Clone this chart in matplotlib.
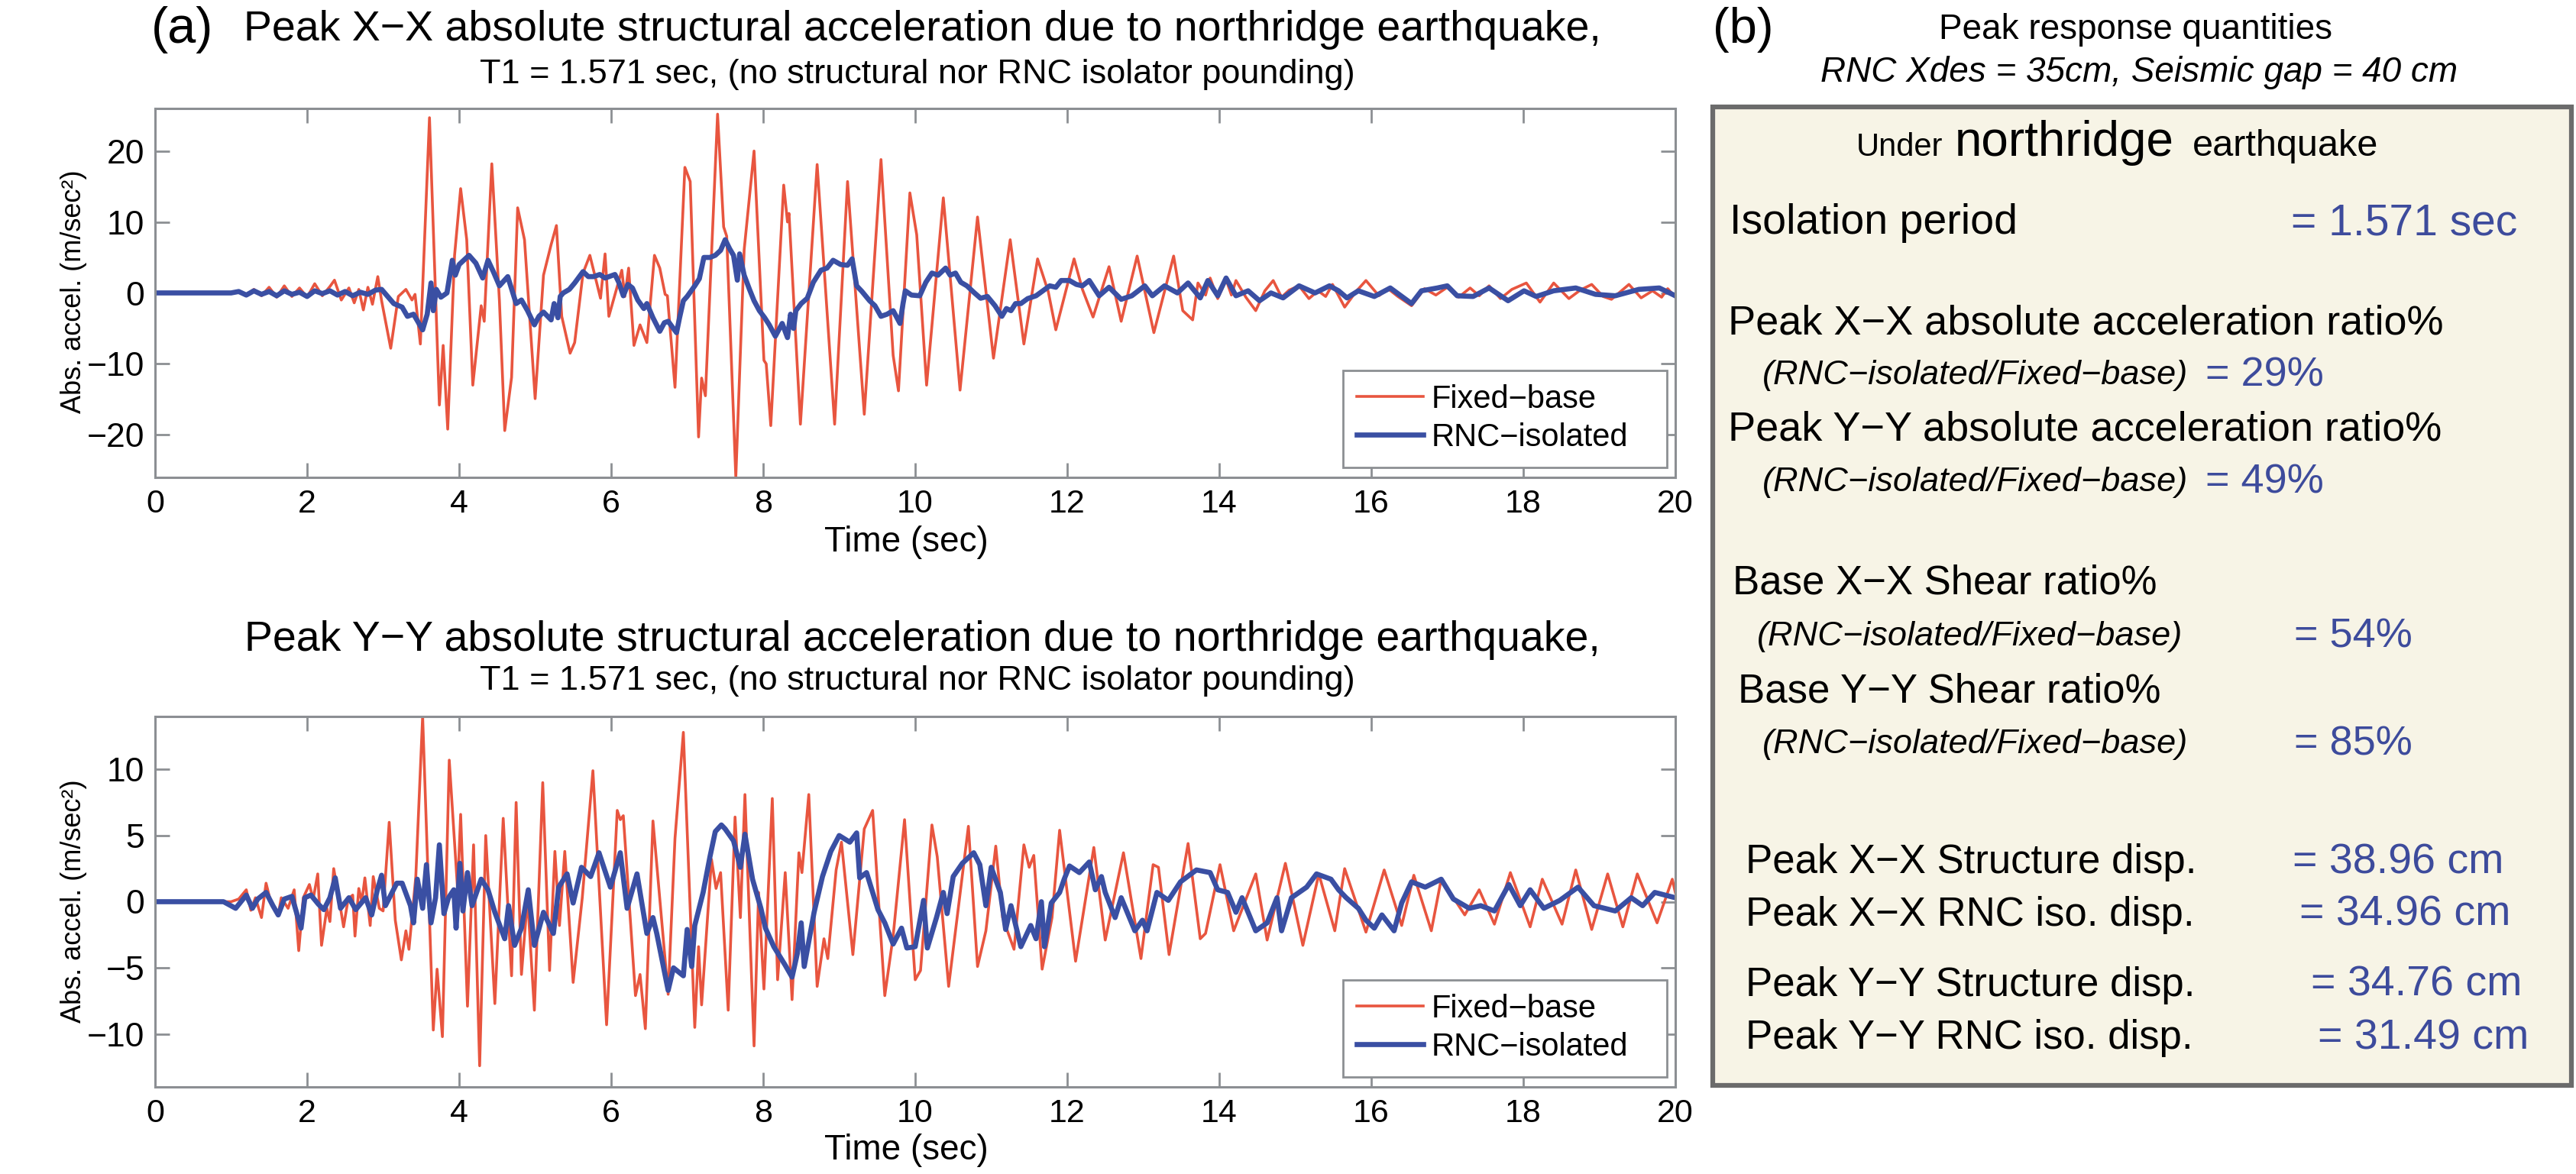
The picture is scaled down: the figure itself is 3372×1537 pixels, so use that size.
import matplotlib
matplotlib.use("Agg")
import matplotlib.pyplot as plt
from matplotlib.patches import Rectangle

# ---- data (peaks / troughs of each trace) ----
# (a) top: X-X absolute acceleration
x_fixed_t = [0.0, 1.0, 1.1, 1.2, 1.3, 1.4, 1.5, 1.6, 1.7, 1.8, 1.9, 2.0, 2.1, 2.2, 2.3, 2.36,
             2.45, 2.55, 2.62, 2.68, 2.74, 2.80, 2.86, 2.93, 2.98, 3.10, 3.20, 3.30, 3.38, 3.42,
             3.49, 3.61, 3.74, 3.79, 3.85, 3.94, 4.02, 4.10, 4.18, 4.29, 4.33, 4.43, 4.53, 4.60,
             4.69, 4.77, 4.86, 5.00, 5.11, 5.21, 5.28, 5.35, 5.46, 5.52, 5.63, 5.72, 5.86, 5.92,
             5.97, 6.14, 6.18, 6.23, 6.30, 6.38, 6.47, 6.57, 6.64, 6.71, 6.74, 6.84, 6.97, 7.04,
             7.15, 7.19, 7.24, 7.40, 7.48, 7.52, 7.64, 7.75, 7.88, 8.01, 8.04, 8.10, 8.27, 8.32,
             8.34, 8.49, 8.71, 8.94, 9.11, 9.33, 9.55, 9.71, 9.78, 9.93, 10.02, 10.15, 10.37,
             10.59, 10.82, 11.03, 11.25, 11.43, 11.61, 11.75, 11.85, 12.09, 12.20, 12.34, 12.55,
             12.71, 12.92, 13.14, 13.40, 13.52, 13.65, 13.72, 13.82, 13.88, 13.98, 14.09, 14.16,
             14.22, 14.35, 14.48, 14.60, 14.71, 14.82, 14.92, 15.05, 15.18, 15.30, 15.40, 15.49,
             15.65, 15.80, 15.93, 16.10, 16.22, 16.35, 16.53, 16.70, 16.85, 17.00, 17.15, 17.30,
             17.42, 17.55, 17.70, 17.85, 18.04, 18.22, 18.40, 18.60, 18.75, 18.90, 19.05, 19.16,
             19.39, 19.55, 19.70, 19.82, 19.90, 20.0]
x_fixed_v = [0.0, 0.0, 0.2, -0.3, 0.5, -0.4, 0.8, -0.6, 1.0, -0.5, 0.7, -0.6, 1.3, -0.4, 0.9, 1.8,
             -1.0, 0.7, -1.4, 0.5, -2.4, 0.8, -1.6, 2.3, -1.1, -7.8, -0.5, 0.5, -1.0, -0.2,
             -7.2, 24.7, -15.8, -7.4, -19.2, 5.3, 14.7, 7.5, -13.0, -1.8, -4.0, 18.2, -1.1, -19.4,
             -11.9, 12.0, 7.5, -14.9, 2.5, 6.8, 9.5, -3.3, -8.5, -7.0, 2.8, 5.3, -0.75, 5.5,
             -3.3, 3.2, -0.5, 3.5, -7.4, -4.5, -7.0, 5.3, 3.5, -0.2, -0.4, -13.3, 17.7, 15.7,
             -20.3, -12.0, -14.5, 25.2, 9.3, 8.0, -26.0, 6.1, 20.0, -9.5, -10.0, -18.7, 15.2, 10.0,
             11.2, -18.5, 18.1, -18.5, 15.7, -17.1, 18.8, -8.8, -13.8, 14.1, 8.2, -13.0, 13.4,
             -13.7, 10.7, -9.2, 7.5, -7.2, 4.8, 0.2, -5.2, 4.8, 0.5, -3.4, 3.7,
             -4.0, 5.2, -5.6, 5.2, -2.5, -3.8, 1.4, -0.3, 2.1, -0.8, 1.9, -0.3,
             1.75, -0.6, -2.5, 0.3, 1.75, -0.6, 0.4, 1.0, -0.8, 0.3, -0.5, 1.2,
             -2.0, 0.2, 1.75, -0.4, 0.6, -0.5, -1.8, 0.6, -0.3, 0.8, -0.6, 0.7,
             -0.4, 1.0, -0.8, 0.5, 1.4, -1.3, 1.4, -0.8, 0.4, 1.2, -0.5, -0.9,
             1.2, -0.7, 0.3, -0.6, 0.6, -0.6]

x_iso_t = [0.0, 1.0, 1.1, 1.2, 1.3, 1.4, 1.5, 1.6, 1.7, 1.8, 1.9, 2.0, 2.1, 2.2, 2.3, 2.4, 2.5,
           2.6, 2.7, 2.8, 2.9, 2.98, 3.14, 3.25, 3.32, 3.40, 3.52, 3.58, 3.63, 3.66, 3.70, 3.76,
           3.84, 3.91, 3.95, 4.00, 4.13, 4.22, 4.31, 4.38, 4.45, 4.53, 4.64, 4.75, 4.82, 4.90,
           4.99, 5.05, 5.11, 5.21, 5.25, 5.30, 5.33, 5.37, 5.45, 5.52, 5.63, 5.70, 5.77, 5.85,
           5.92, 6.05, 6.10, 6.16, 6.22, 6.28, 6.35, 6.43, 6.47, 6.55, 6.64, 6.70, 6.75, 6.86,
           6.90, 6.95, 7.00, 7.10, 7.16, 7.22, 7.30, 7.37, 7.44, 7.50, 7.56, 7.61, 7.66, 7.69,
           7.75, 7.82, 7.88, 7.95, 8.02, 8.08, 8.16, 8.25, 8.32, 8.36, 8.40, 8.43, 8.50, 8.58,
           8.66, 8.76, 8.84, 8.92, 9.02, 9.11, 9.17, 9.23, 9.30, 9.40, 9.47, 9.55, 9.63, 9.71,
           9.80, 9.84, 9.87, 9.95, 10.06, 10.14, 10.22, 10.30, 10.40, 10.46, 10.53, 10.60,
           10.68, 10.78, 10.86, 10.95, 11.05, 11.14, 11.20, 11.26, 11.32, 11.39, 11.48, 11.59,
           11.68, 11.77, 11.85, 11.92, 12.03, 12.12, 12.20, 12.29, 12.42, 12.55, 12.71, 12.85,
           13.02, 13.12, 13.28, 13.45, 13.59, 13.75, 13.85, 13.98, 14.09, 14.22, 14.38, 14.53,
           14.68, 14.84, 15.05, 15.26, 15.45, 15.57, 15.68, 15.83, 16.04, 16.25, 16.53, 16.66,
           16.87, 17.00, 17.13, 17.34, 17.55, 17.80, 18.01, 18.17, 18.40, 18.69, 18.95, 19.21,
           19.52, 19.79, 20.0]
x_iso_v = [0.0, 0.0, 0.2, -0.3, 0.3, -0.2, 0.2, -0.4, 0.3, -0.2, 0.1, -0.5, 0.3, -0.1, 0.3, -0.3, 0.2,
           -0.4, 0.1, -0.2, 0.4, 0.5, -1.5, -2.0, -3.3, -3.0, -5.2, -3.0, 1.4, -2.5, 0.5, -0.6,
           0.0, 4.6, 2.5, 4.0, 5.3, 4.2, 2.1, 4.6, 3.0, 1.0, 2.3, -1.5, -1.0, -2.5,
           -4.5, -3.3, -2.7, -3.8, -1.5, -3.5, -0.5, 0.0, 0.5, 1.4, 3.0, 2.3, 2.3, 2.6,
           2.1, 2.6, 1.5, -0.4, 1.2, 0.7, -1.0, -2.2, -1.5, -3.5, -5.4, -4.2, -4.0, -5.6,
           -3.5, -1.1, -0.5, 1.0, 2.0, 5.0, 5.0, 5.3, 6.0, 7.5, 6.2, 5.3, 1.8, 5.5,
           2.5, 0.5, -1.1, -2.5, -3.5, -4.5, -6.1, -4.3, -6.3, -3.0, -5.0, -2.5, -1.5, -0.75,
           1.5, 3.2, 3.5, 4.6, 4.0, 3.9, 4.8, 1.0, 0.2, -1.1, -1.8, -3.3, -3.0, -2.5,
           -4.3, -1.5, 0.3, -0.3, -0.4, 1.5, 2.8, 2.5, 3.5, 2.5, 2.8, 1.5,
           1.0, 0.0, -0.75, -0.5, -1.8, -3.3, -2.2, -2.5, -1.5, -1.5, -0.8, -0.4,
           0.3, 1.0, 0.8, 1.75, 1.75, 1.2, 1.0, 1.75, -0.4, 0.8, -0.9, -0.4,
           1.0, -0.4, 1.0, 0.0, 1.4, -0.7, 1.75, -0.4, 2.1, -0.4, 0.3, -1.1,
           0.0, -0.7, 1.0, 0.0, 1.0, 0.3, -0.7, 0.3, -0.5, 0.7, -1.5, 0.3,
           0.7, 1.0, -0.4, -0.5, 0.7, -1.1, 0.3, -0.5, 0.3, 0.7, -0.2, -0.4,
           0.5, 0.7, -0.4]

# (a) bottom: Y-Y absolute acceleration
y_fixed_t = [0.0, 1.0, 1.1, 1.20, 1.26, 1.32, 1.40, 1.46, 1.52, 1.62, 1.66, 1.75, 1.83, 1.89, 1.95,
             2.03, 2.08, 2.14, 2.19, 2.26, 2.30, 2.35, 2.42, 2.48, 2.54, 2.60, 2.63, 2.68, 2.72,
             2.76, 2.83, 2.87, 2.95, 3.00, 3.08, 3.16, 3.24, 3.30, 3.34, 3.43, 3.52, 3.66, 3.71,
             3.78, 3.87, 3.98, 4.02, 4.11, 4.19, 4.27, 4.35, 4.47, 4.58, 4.69, 4.75, 4.82, 4.90,
             4.99, 5.10, 5.19, 5.26, 5.32, 5.39, 5.50, 5.62, 5.76, 5.94, 6.08, 6.12, 6.16, 6.32,
             6.38, 6.45, 6.55, 6.75, 6.84, 6.95, 7.10, 7.15, 7.19, 7.32, 7.38, 7.44, 7.54, 7.63,
             7.70, 7.76, 7.88, 7.94, 8.01, 8.12, 8.19, 8.29, 8.38, 8.47, 8.51, 8.60, 8.71, 8.80,
             8.85, 8.96, 9.03, 9.18, 9.33, 9.44, 9.60, 9.71, 9.86, 10.00, 10.07, 10.22, 10.29,
             10.44, 10.70, 10.82, 10.93, 11.06, 11.15, 11.30, 11.43, 11.50, 11.56, 11.67, 11.80,
             11.90, 12.11, 12.35, 12.50, 12.74, 12.97, 13.13, 13.20, 13.34, 13.59, 13.75, 13.82,
             14.01, 14.19, 14.48, 14.63, 14.87, 15.10, 15.31, 15.52, 15.65, 15.93, 16.17, 16.40,
             16.56, 16.79, 16.92, 17.23, 17.42, 17.62, 17.83, 18.09, 18.25, 18.51, 18.69, 18.90,
             19.11, 19.31, 19.50, 19.76, 19.96, 20.0]
y_fixed_v = [0.0, 0.0, 0.2, 0.9, -0.65, 0.3, -1.2, 1.4, 0.0, -1.0, 0.3, -0.5, 0.9, -3.7, 0.3,
             1.3, 0.2, 2.1, -3.3, -0.5, -1.5, 2.5, 0.2, -1.9, 0.2, 0.5, -2.6, 1.0, 0.0,
             1.8, -1.8, 1.9, -0.5, -0.7, 6.0, -1.4, -4.4, -2.2, -3.6, 1.9, 14.0, -9.7, -5.1,
             -10.2, 10.7, 0.9, 6.6, -7.9, 4.3, -12.4, 5.0, -7.7, 6.3, -5.6, 7.5, -5.5, 0.3,
             -8.2, 9.0, -5.2, 3.8, -1.8, 3.8, -6.1, 0.3, 9.9, -9.3, 6.9, 6.2, 6.5, -7.1,
             -5.5, -9.6, 6.1, -7.0, 4.8, 12.8, -9.5, -3.4, -7.8, 3.2, 1.0, 2.2, -8.2, 6.4,
             -1.2, 8.1, -10.9, 0.7, -6.6, 7.8, -5.9, 2.2, -7.4, 3.7, 2.2, 8.1, -6.4, -2.8,
             -4.3, 2.4, 4.5, -4.0, 5.5, 6.9, -7.1, -2.6, 6.2, -5.9, -5.2, 5.8, 3.4,
             -6.4, 5.7, -4.9, -2.2, 4.2, -1.2, -3.6, 4.3, 2.6, 3.5, -5.1, -1.2,
             5.4, -4.5, 4.1, -2.9, 3.7, -4.3, 2.8, 2.6, -4.0, 4.4, -2.8, -2.4,
             2.8, -2.2, 2.1, -2.9, 2.9, -3.3, 2.1, -2.2, 2.5, -2.3, 2.4, -1.8,
             2.0, -2.2, 1.7, -1.0, 0.9, -1.7, 2.2, -1.9, 1.7, -1.7, 2.4, -2.1,
             2.1, -1.9, 2.1, -1.6, 1.7, 0.7]

y_iso_t = [0.0, 0.9, 1.06, 1.20, 1.28, 1.35, 1.46, 1.55, 1.62, 1.70, 1.80, 1.92, 1.97, 2.05, 2.15,
           2.22, 2.30, 2.37, 2.44, 2.55, 2.64, 2.77, 2.85, 2.92, 2.98, 3.03, 3.18, 3.25, 3.36,
           3.40, 3.45, 3.52, 3.57, 3.63, 3.69, 3.74, 3.80, 3.86, 3.93, 3.96, 4.01, 4.05, 4.11,
           4.17, 4.29, 4.38, 4.47, 4.60, 4.65, 4.73, 4.82, 4.91, 4.99, 5.11, 5.24, 5.31, 5.42,
           5.50, 5.61, 5.73, 5.84, 5.99, 6.12, 6.21, 6.34, 6.47, 6.55, 6.60, 6.75, 6.82, 6.95,
           7.00, 7.06, 7.10, 7.21, 7.30, 7.37, 7.45, 7.50, 7.61, 7.70, 7.76, 7.86, 7.97, 8.03,
           8.14, 8.29, 8.38, 8.45, 8.50, 8.54, 8.67, 8.78, 8.89, 9.00, 9.14, 9.23, 9.27, 9.36,
           9.51, 9.60, 9.71, 9.82, 9.89, 10.00, 10.11, 10.16, 10.28, 10.37, 10.42, 10.50, 10.62,
           10.77, 10.85, 10.93, 11.00, 11.12, 11.19, 11.26, 11.39, 11.52, 11.59, 11.66, 11.70,
           11.79, 11.90, 11.96, 12.03, 12.16, 12.29, 12.37, 12.45, 12.50, 12.63, 12.71, 12.89,
           12.99, 13.05, 13.18, 13.33, 13.49, 13.70, 13.88, 13.98, 14.11, 14.22, 14.30, 14.48,
           14.63, 14.76, 14.82, 14.95, 15.15, 15.28, 15.47, 15.57, 15.67, 15.83, 15.93, 16.04,
           16.14, 16.30, 16.40, 16.53, 16.71, 16.92, 17.08, 17.29, 17.44, 17.62, 17.81, 17.96,
           18.09, 18.27, 18.48, 18.72, 18.93, 19.21, 19.42, 19.57, 19.73, 20.0]
y_iso_v = [0.0, 0.0, -0.5, 0.5, -0.5, 0.2, 0.7, -0.3, -1.0, 0.2, 0.4, -2.0, 0.3, 0.5, -0.2,
           -0.6, 0.3, 1.8, -0.5, 0.3, -0.6, 0.3, -1.0, 0.8, 2.0, -0.3, 1.4, 1.4, -0.3,
           -1.6, 1.7, -0.5, 2.8, -1.6, 0.3, 4.3, -0.9, 0.3, 0.9, -2.0, 2.9, -0.7, 2.2,
           -0.3, 1.7, 0.9, -0.8, -2.8, -0.3, -3.3, -2.0, 0.9, -3.3, -0.8, -2.4, 1.1, 2.1,
           -0.1, 2.6, 1.9, 3.7, 1.1, 3.7, -0.5, 2.1, -2.4, -1.2, -2.4, -6.7, -5.0, -5.6,
           -2.1, -4.9, -1.8, 0.7, 3.4, 5.3, 5.8, 5.5, 4.6, 2.6, 5.1, 1.7, -0.5, -2.0,
           -3.4, -4.8, -5.7, -3.9, -1.6, -4.9, -0.8, 1.9, 3.8, 5.0, 4.5, 5.2, 1.8, 2.2,
           -0.6, -1.6, -3.2, -2.0, -3.5, -3.4, 0.1, -3.5, -1.2, 0.7, -0.9, 1.9, 2.9,
           3.7, 2.8, -0.3, 2.6, 0.7, -2.1, -0.3, -3.4, -1.8, -2.8, 0.0, -3.4,
           -0.1, 0.7, 1.7, 2.7, 2.2, 3.0, 0.9, 1.9, 0.7, -1.2, 0.3, -2.2,
           -1.4, -2.2, 0.7, 0.1, 1.5, 2.4, 2.2, 0.9, 0.7, -0.8, 0.3, -2.2,
           -1.6, 0.3, -2.2, 0.3, 1.1, 2.1, 1.7, 0.9, 0.3, -0.5, -1.4, -2.0,
           -1.0, -2.2, -0.1, 1.5, 1.1, 1.7, 0.2, -0.5, -0.3, -0.7, 1.3, -0.3,
           0.9, -0.5, 0.1, 1.1, -0.3, -0.7, 0.3, -0.3, 0.7, 0.3]

x_ticks = list(range(0, 21, 2))
top_yticks = [-20, -10, 0, 10, 20]
bot_yticks = [-10, -5, 0, 5, 10]

# ---- panel (b) texts ----
b_labels = ["Isolation period",
            "Peak X\u2212X absolute acceleration ratio%",
            "Peak Y\u2212Y absolute acceleration ratio%",
            "Base X\u2212X Shear ratio%",
            "Base Y\u2212Y Shear ratio%",
            "Peak X\u2212X Structure disp.",
            "Peak X\u2212X RNC iso. disp.",
            "Peak Y\u2212Y Structure disp.",
            "Peak Y\u2212Y RNC iso. disp."]
ratio_values = ["= 29%", "= 49%", "= 54%", "= 85%"]
disp_values = ["= 38.96 cm", "= 34.96 cm", "= 34.76 cm", "= 31.49 cm"]
ratio_note = "(RNC\u2212isolated/Fixed\u2212base)"

W, H = 3372, 1537
RED = "#e8553f"
BLUE = "#3a4fa3"
VAL = "#3d4b9c"
GREY = "#8c8f93"

plt.rcParams['font.family'] = ['Liberation Sans', 'DejaVu Sans']
fig = plt.figure(figsize=(W / 100, H / 100), dpi=100)


def fx(x):
    return x / W


def fy(y):
    return 1 - y / H


def make_axes(top, bottom):
    return fig.add_axes([fx(203), fy(bottom), (2193 - 203) / W, (bottom - top) / H])


ax1 = make_axes(142, 625)
ax2 = make_axes(938, 1423)

for ax, tf, vf, ti, vi, lim, yt, leg_top in [
        (ax1, x_fixed_t, x_fixed_v, x_iso_t, x_iso_v, 26, top_yticks, 485),
        (ax2, y_fixed_t, y_fixed_v, y_iso_t, y_iso_v, 14, bot_yticks, 1283)]:
    ax.plot(tf, vf, color=RED, lw=2.6, label="Fixed\u2212base")
    ax.plot(ti, vi, color=BLUE, lw=4.8, label="RNC\u2212isolated")
    ax.set_xlim(0, 20)
    ax.set_ylim(-lim, lim)
    ax.set_xticks(x_ticks)
    ax.set_yticks(yt)
    ax.tick_params(direction='in', length=14, width=2, color=GREY, labelsize=31,
                   top=True, right=True)
    ax.tick_params(axis='x', pad=11)
    ax.tick_params(axis='y', pad=10, labelsize=32)
    for s in ax.spines.values():
        s.set_color(GREY)
        s.set_linewidth(2.2)
    # legend box drawn by hand so it can be as wide as the original
    ax.add_patch(Rectangle((fx(1758), fy(leg_top + 127)), 424 / W, 127 / H,
                           transform=fig.transFigure, facecolor='white', edgecolor=GREY,
                           lw=2, zorder=4))
    lg = ax.legend(loc='upper left', bbox_to_anchor=(fx(1758), fy(leg_top)),
                   bbox_transform=fig.transFigure, borderaxespad=0, fontsize=30,
                   frameon=False, handlelength=2.1, handletextpad=0.25, borderpad=0.42,
                   labelspacing=0.25)
    lg.set_zorder(5)

# titles and axis labels for (a)
fig.text(fx(198), fy(39), "(a)", fontsize=48, ha='left', va='center')
fig.text(fx(1207), fy(39), "Peak X\u2212X absolute structural acceleration due to northridge earthquake,",
         fontsize=40, ha='center', va='center')
fig.text(fx(1201), fy(98), "T1 = 1.571 sec, (no structural nor RNC isolator pounding)",
         fontsize=32.5, ha='center', va='center')
fig.text(fx(1207), fy(838), "Peak Y\u2212Y absolute structural acceleration due to northridge earthquake,",
         fontsize=40, ha='center', va='center')
fig.text(fx(1201), fy(891), "T1 = 1.571 sec, (no structural nor RNC isolator pounding)",
         fontsize=32.5, ha='center', va='center')
for yc in [382, 1180]:
    fig.text(fx(97), fy(yc), "Abs. accel. (m/sec\u00b2)", fontsize=26, rotation=90,
             ha='center', va='center')
for yc in [710, 1506]:
    fig.text(fx(1186), fy(yc), "Time (sec)", fontsize=33, ha='center', va='center')

# panel (b)
fig.text(fx(2242), fy(39), "(b)", fontsize=47, ha='left', va='center')
fig.text(fx(2795), fy(39), "Peak response quantities", fontsize=33, ha='center', va='center')
fig.text(fx(2800), fy(95), "RNC Xdes = 35cm, Seismic gap = 40 cm", fontsize=33, style='italic',
         ha='center', va='center')
fig.patches.append(Rectangle((fx(2242), fy(1421)), (3366 - 2242) / W, (1421 - 140) / H,
                             transform=fig.transFigure, facecolor="#f7f4e6",
                             edgecolor="#6b6b6b", lw=4.5))

fig.text(fx(2430), fy(204), "Under", fontsize=30, ha='left', va='baseline')
fig.text(fx(2559), fy(204), "northridge", fontsize=46, ha='left', va='baseline')
fig.text(fx(2870), fy(204), "earthquake", fontsize=35, ha='left', va='baseline')

fig.text(fx(2264), fy(292), b_labels[0], fontsize=40, ha='left', va='center')
fig.text(fx(2999), fy(292), "= 1.571 sec", fontsize=41, color=VAL, ha='left', va='center')

ratio_rows = [(2262, 424, 2307, 492, 2887), (2262, 563, 2307, 632, 2887),
              (2268, 763, 2300, 834, 3003), (2275, 905, 2307, 974, 3003)]
for i, (lab, val, (x0, y0, x1, y1, xv)) in enumerate(zip(b_labels[1:5], ratio_values, ratio_rows)):
    fig.text(fx(x0), fy(y0), lab, fontsize=39 if i < 2 else 38, ha='left', va='center')
    fig.text(fx(x1), fy(y1), ratio_note, fontsize=32.5, style='italic', ha='left', va='center')
    fig.text(fx(xv), fy(y1), val, fontsize=39, color=VAL, ha='left', va='center')

disp_rows = [(1129, 3001), (1198, 3010), (1290, 3025), (1359, 3034)]
for lab, val, (yc, xv) in zip(b_labels[5:], disp_values, disp_rows):
    fig.text(fx(2285), fy(yc), lab, fontsize=38, ha='left', va='center')
    fig.text(fx(xv), fy(yc), val, fontsize=40, color=VAL, ha='left', va='center')

fig.savefig("out.png", dpi=100)
